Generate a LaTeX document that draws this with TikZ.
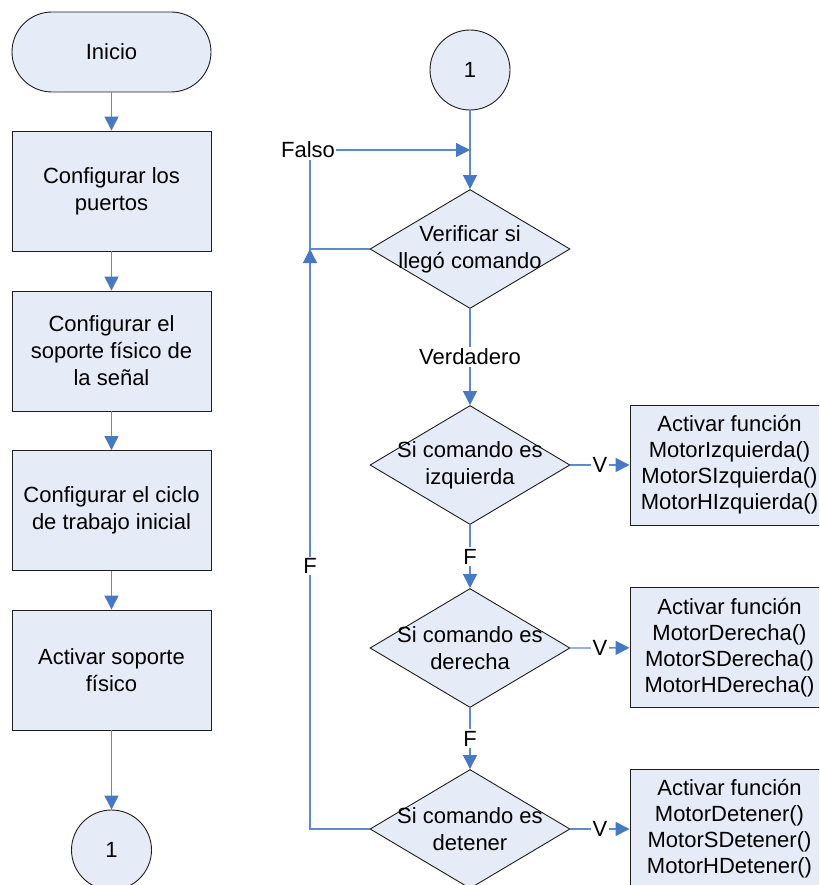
\documentclass[tikz,border=0pt]{standalone}
\usepackage{fontspec}
\setmainfont{Liberation Sans}
\usetikzlibrary{shapes.geometric,arrows.meta}
\definecolor{shapefill}{RGB}{230,236,247}
\definecolor{linkblue}{RGB}{92,138,204}
\definecolor{tipblue}{RGB}{70,120,196}
\definecolor{edgegray}{RGB}{30,30,30}

\begin{document}
\begin{tikzpicture}[x=1pt,y=-1pt,
  font=\fontsize{22}{27}\selectfont,
  base/.style={draw=edgegray, line width=0.9pt, fill=shapefill, align=center, inner sep=0pt},
  terminal/.style={base, rectangle, rounded corners=40pt, minimum width=199pt, minimum height=80pt},
  process/.style={base, rectangle, minimum width=199pt, minimum height=120pt},
  action/.style={process, font=\fontsize{22}{26}\selectfont},
  decision/.style={base, diamond, minimum width=200pt, minimum height=119pt},
  connector/.style={base, circle, minimum size=80pt},
  caption/.style={align=center, inner sep=0pt},
  flow/.style={draw=linkblue, line width=1.3pt, -{Triangle[length=14pt,width=14pt,color=tipblue]}},
  tag/.style={fill=white, inner sep=1.5pt}
]
\useasboundingbox (0,0) rectangle (819,885);
\clip (0,0) rectangle (819,885);

% left column: setup sequence
\node[terminal]  (start) at (111.5,52)    {Inicio};
\node[process]   (p1)    at (111.5,191)   {Configurar los\\puertos};
\node[process]   (p2)    at (111.5,351)   {Configurar el\\soporte físico de\\la señal};
\node[process]   (p3)    at (111.5,510.5) {Configurar el ciclo\\de trabajo inicial};
\node[process]   (p4)    at (111.5,670)   {Activar soporte\\físico};
\node[connector] (c1)    at (111.5,850)   {1};

\draw[flow] (start) -- (p1);
\draw[flow] (p1) -- (p2);
\draw[flow] (p2) -- (p3);
\draw[flow] (p3) -- (p4);
\draw[flow] (p4) -- (c1);

% right column: command loop
\node[connector] (c2) at (470,70) {1};
\node[decision]  (d1) at (470,249)   {};
\node[caption]   (t1) at (d1.center) {Verificar si\\llegó comando};
\node[decision]  (d2) at (470,465)   {};
\node[caption]   (t2) at (d2.center) {Si comando es\\izquierda};
\node[decision]  (d3) at (470,648)   {};
\node[caption]   (t3) at (d3.center) {Si comando es\\derecha};
\node[decision]  (d4) at (470,829)   {};
\node[caption]   (t4) at (d4.center) {Si comando es\\detener};

\node[action] (b1) at (729.5,465) {Activar función\\MotorIzquierda()\\MotorSIzquierda()\\MotorHIzquierda()};
\node[action] (b2) at (729.5,647.5) {Activar función\\MotorDerecha()\\MotorSDerecha()\\MotorHDerecha()};
\node[action] (b3) at (729.5,829) {Activar función\\MotorDetener()\\MotorSDetener()\\MotorHDetener()};

\coordinate (fk) at (310,150);
\coordinate (jn) at (470,150);
\coordinate (lc) at (310,249);

\draw[flow] (c2) -- (d1);
\draw[flow] (d1) -- node[tag] (tv) {Verdadero} (d2);
\draw[flow] (d2) -- node[tag] (tf1) {F} (d3);
\draw[flow] (d3) -- node[tag] (tf2) {F} (d4);
\draw[flow] (d2.east) -- node[tag] (tv1) {V} (b1);
\draw[flow] (d3.east) -- node[tag] (tv2) {V} (b2);
\draw[flow] (d4.east) -- node[tag] (tv3) {V} (b3);

% no command yet: back to the top
\draw[flow] (d1.west) -| (fk) -- (jn);
\node[tag] (tfalso) at (308,150) {Falso};

% unknown command: back to the check
\draw[flow] (d4.west) -| (lc);
\node[tag] (tf3) at (310,566) {F};
\end{tikzpicture}
\end{document}
